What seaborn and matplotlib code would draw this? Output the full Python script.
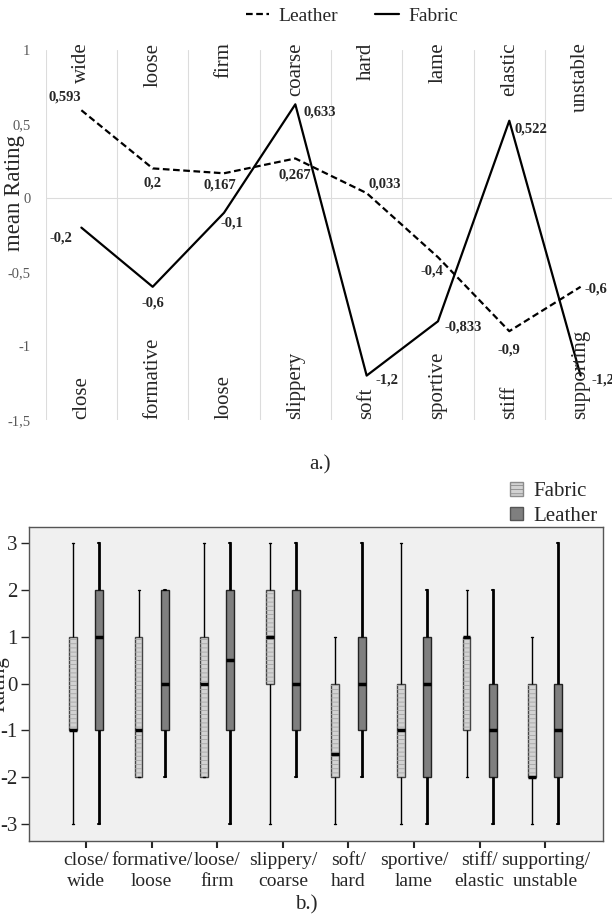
import numpy as np
import pandas as pd
import matplotlib
matplotlib.use("Agg")
import matplotlib.pyplot as plt
import matplotlib.patches as mpatches
import seaborn as sns

# semantic pairs (left word / right word)
left_words = ["close", "formative", "loose", "slippery", "soft", "sportive", "stiff", "supporting"]
right_words = ["wide", "loose", "firm", "coarse", "hard", "lame", "elastic", "unstable"]
pairs = [f"{a}/\n{b}" for a, b in zip(left_words, right_words)]

# a.) mean ratings
leather_mean = [0.593, 0.2, 0.167, 0.267, 0.033, -0.4, -0.9, -0.6]
fabric_mean = [-0.2, -0.6, -0.1, 0.633, -1.2, -0.833, 0.522, -1.2]

# b.) five-number summaries
fabric_min = [-3, -2, -2, -3, -3, -3, -2, -3]
fabric_q1 = [-1, -2, -2, 0, -2, -2, -1, -2]
fabric_med = [-1, -1, 0, 1, -1.5, -1, 1, -2]
fabric_q3 = [1, 1, 1, 2, 0, 0, 1, 0]
fabric_max = [3, 2, 3, 3, 1, 3, 2, 1]

leather_min = [-3, -2, -3, -2, -2, -3, -3, -3]
leather_q1 = [-1, -1, -1, -1, -1, -2, -2, -2]
leather_med = [1, 0, 0.5, 0, 0, 0, -1, -1]
leather_q3 = [2, 2, 2, 2, 1, 1, 0, 0]
leather_max = [3, 2, 3, 3, 3, 2, 2, 3]

# label offsets in pixels (style only)
leather_off = [(-17, 13), (0, -15), (-4, -12), (0, -17), (18, 9), (-6, -14), (0, -19), (15, -2)]
fabric_off = [(-20, -10), (0, -16), (8, -10), (24, -8), (20, -4), (25, -6), (22, -8), (22, -4)]

sns.set_style("white")
plt.rcParams["font.family"] = ["Liberation Serif", "DejaVu Serif"]
plt.rcParams["hatch.linewidth"] = 0.6
plt.rcParams["axes.unicode_minus"] = False

W, H = 612, 919
fig = plt.figure(figsize=(W / 100, H / 100), dpi=100)

# ---------------- a.) line chart ----------------
ax1 = fig.add_axes([45.7 / W, 1 - 420 / H, (W - 45.7) / W, (420 - 50) / H])
df_mean = pd.DataFrame({
    "pair": pairs * 2,
    "mean": leather_mean + fabric_mean,
    "material": ["Leather"] * len(pairs) + ["Fabric"] * len(pairs),
})
sns.lineplot(data=df_mean, x="pair", y="mean", style="material",
             style_order=["Leather", "Fabric"],
             dashes={"Leather": (3, 1.6), "Fabric": ""},
             color="black", linewidth=1.6, sort=False, ax=ax1)
handles, labels = ax1.get_legend_handles_labels()
ax1.get_legend().remove()

n = len(pairs)
for xb in np.arange(n + 1) - 0.5:
    ax1.axvline(xb, color="#dcdcdc", lw=0.8, zorder=0)
ax1.axhline(0, color="#dcdcdc", lw=0.8, zorder=0)

for i, (v, off) in enumerate(zip(leather_mean, leather_off)):
    ax1.annotate(f"{v:g}".replace(".", ","), (i, v), xytext=off,
                 textcoords="offset pixels", ha="center", va="center",
                 fontsize=10.5, fontweight="bold")
for i, (v, off) in enumerate(zip(fabric_mean, fabric_off)):
    ax1.annotate(f"{v:g}".replace(".", ","), (i, v), xytext=off,
                 textcoords="offset pixels", ha="center", va="center",
                 fontsize=10.5, fontweight="bold")

for i, (lw_, rw_) in enumerate(zip(left_words, right_words)):
    ax1.text(i, 1.05, rw_, rotation=90, ha="center", va="top", fontsize=15)
    ax1.text(i, -1.49, lw_, rotation=90, ha="center", va="bottom", fontsize=15)

ax1.set_xlim(-0.5, 7.44)
ax1.set_ylim(-1.5, 1)
yt = [-1.5, -1, -0.5, 0, 0.5, 1]
ax1.set_yticks(yt)
ax1.set_yticklabels([f"{t:g}".replace(".", ",") for t in yt], color="#595959", fontsize=10.5)
ax1.tick_params(axis="y", length=0, pad=11)
ax1.set_xticks([])
ax1.set_xlabel("")
ax1.set_ylabel("mean Rating", fontsize=16.5)
ax1.yaxis.set_label_coords(-0.037, 0.612)
for s in ax1.spines.values():
    s.set_visible(False)

fig.legend(handles, labels, loc="center", bbox_to_anchor=(352 / W, 1 - 16 / H),
           ncol=2, frameon=False, fontsize=14, handlelength=1.2, columnspacing=1.9,
           handletextpad=0.5)
fig.text(320 / W, 1 - 465 / H, "a.)", ha="center", va="center", fontsize=15)

# ---------------- b.) box plot ----------------
ax2 = fig.add_axes([29 / W, 1 - 841 / H, (603 - 29) / W, (841 - 527) / H])
ax2.set_facecolor("#f0f0f0")


def five_num_frame(name, mins, q1s, meds, q3s, maxs):
    rows = []
    for p, a, b, c, d, e in zip(pairs, mins, q1s, meds, q3s, maxs):
        for val in (a, b, c, d, e):
            rows.append({"pair": p, "rating": val, "material": name})
    return pd.DataFrame(rows)


df_fab = five_num_frame("Fabric", fabric_min, fabric_q1, fabric_med, fabric_q3, fabric_max)
df_lea = five_num_frame("Leather", leather_min, leather_q1, leather_med, leather_q3, leather_max)
colors = {"Fabric": "#d2d2d2", "Leather": "#7f7f7f"}

sns.boxplot(data=df_fab, x="pair", y="rating", hue="material", order=pairs,
            hue_order=["Fabric", "Leather"], palette=colors, dodge=True,
            width=0.8, gap=0.7, whis=np.inf, linecolor="#444444", linewidth=1,
            medianprops={"color": "black", "linewidth": 2.5},
            whiskerprops={"color": "black", "linewidth": 1},
            capprops={"color": "black", "linewidth": 1},
            legend=False, ax=ax2)
fab_boxes = list(ax2.patches)
sns.boxplot(data=df_lea, x="pair", y="rating", hue="material", order=pairs,
            hue_order=["Fabric", "Leather"], palette=colors, dodge=True,
            width=0.8, gap=0.7, whis=np.inf, linecolor="#222222", linewidth=1,
            medianprops={"color": "black", "linewidth": 2.5},
            whiskerprops={"color": "black", "linewidth": 2},
            capprops={"color": "black", "linewidth": 1.5},
            legend=False, ax=ax2)

# light horizontal stripes on the fabric boxes
for p in fab_boxes:
    ax2.add_patch(mpatches.PathPatch(p.get_path(), transform=p.get_transform(),
                                     facecolor="none", edgecolor="#a5a5a5", hatch="----",
                                     lw=0, zorder=p.get_zorder() + 0.01))
# short whisker caps, lines above the stripes
for ln in ax2.lines:
    ln.set_zorder(ln.get_zorder() + 0.05)
    xd, yd = np.asarray(ln.get_xdata(), float), np.asarray(ln.get_ydata(), float)
    if len(yd) == 2 and yd[0] == yd[1] and ln.get_linewidth() < 2:
        c, half = xd.mean(), (xd[1] - xd[0]) / 4
        ln.set_xdata([c - half, c + half])

ax2.set_xlim(-0.87, 7.88)
ax2.set_ylim(-3.36, 3.34)
ax2.set_yticks(range(-3, 4))
ax2.tick_params(axis="y", labelsize=15, length=6, width=1, direction="out", left=True, pad=2)
ax2.tick_params(axis="x", labelsize=14, length=5, width=1.5, direction="out", bottom=True, pad=3)
for lab in ax2.get_xticklabels():
    lab.set_linespacing(1.3)
ax2.set_xlabel("")
ax2.set_ylabel("Rating", fontsize=15)
ax2.yaxis.set_label_coords(-0.035, 0.5)
for s in ax2.spines.values():
    s.set_visible(True)
    s.set_color("#555555")
    s.set_linewidth(1)

leg_handles = [
    mpatches.Patch(facecolor=colors["Fabric"], edgecolor="#8c8c8c", hatch="----", label="Fabric"),
    mpatches.Patch(facecolor=colors["Leather"], edgecolor="#555555", label="Leather"),
]
fig.legend(handles=leg_handles, loc="upper right", bbox_to_anchor=(606 / W, 1 - 474 / H),
           frameon=False, fontsize=15, handlelength=0.6, handleheight=0.6,
           handletextpad=0.5, labelspacing=0.25, borderaxespad=0)
fig.text(306 / W, 1 - 905 / H, "b.)", ha="center", va="center", fontsize=15)

fig.savefig("out.png", dpi=100)
